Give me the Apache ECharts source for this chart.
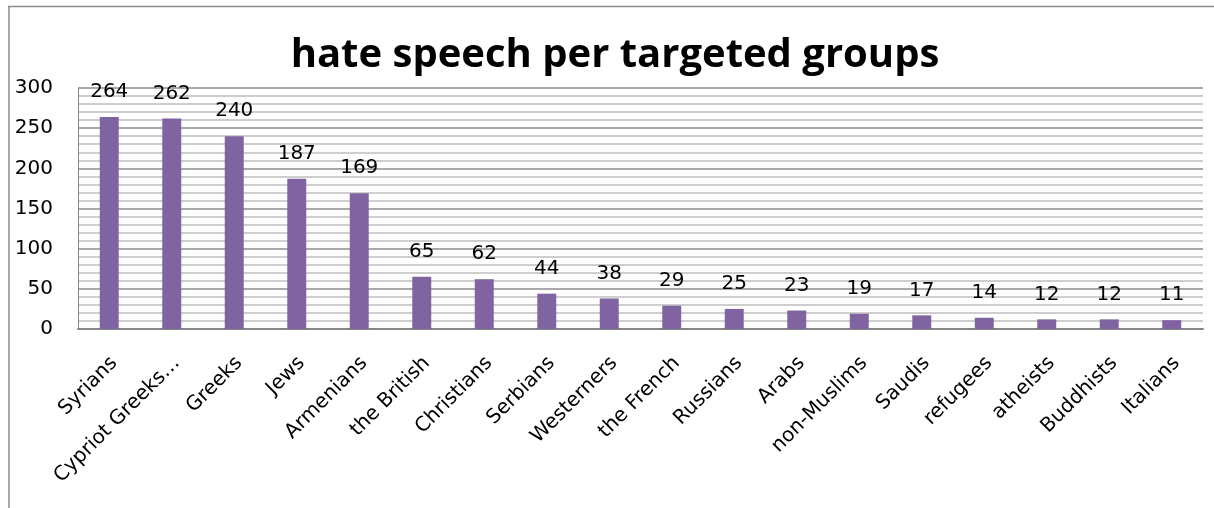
<!DOCTYPE html>
<html><head><meta charset="utf-8">
<script src="https://cdn.jsdelivr.net/npm/echarts@6/dist/echarts.min.js"></script>
<style>html,body{margin:0;padding:0;background:#fff}#c{width:1214px;height:508px}</style>
</head><body><div id="c"></div>
<script>
const titleText = 'hate speech per targeted groups';
const categories = ['Syrians','Cypriot Greeks…','Greeks','Jews','Armenians','the British','Christians','Serbians','Westerners','the French','Russians','Arabs','non-Muslims','Saudis','refugees','atheists','Buddhists','Italians'];
const values = [264,262,240,187,169,65,62,44,38,29,25,23,19,17,14,12,12,11];
const yTicks = [0,50,100,150,200,250,300];

const FONT = 'DejaVu Sans';
const chart = echarts.init(document.getElementById('c'), null, {renderer:'canvas'});
chart.setOption({
  animation:false,
  backgroundColor:'#fff',
  title:{text:titleText,left:610,textAlign:'center',top:31,textStyle:{fontFamily:'Open Sans',fontWeight:'bold',fontSize:40,color:'#000'}},
  graphic:[
    {type:'line',shape:{x1:8,y1:6.5,x2:1214,y2:6.5},style:{stroke:'#8c8c8c',lineWidth:1.5}},
    {type:'line',shape:{x1:9,y1:6,x2:9,y2:508},style:{stroke:'#8c8c8c',lineWidth:1.5}}
  ],
  grid:[
    {left:78,right:11,top:88,bottom:179,containLabel:false},
    {left:83,right:6,top:88,bottom:179,containLabel:false}
  ],
  xAxis:[
    {type:'category',data:categories,gridIndex:0,
      axisLine:{show:true,lineStyle:{color:'#868686',width:2}},
      axisTick:{show:false},axisLabel:{show:false}},
    {type:'category',data:categories,gridIndex:1,
      axisLine:{show:false},axisTick:{show:false},splitLine:{show:false},
      axisLabel:{interval:0,rotate:45,margin:31,fontFamily:FONT,fontSize:20,color:'#000'}}
  ],
  yAxis:[
    {type:'value',min:0,max:300,interval:50,gridIndex:0,
      axisLine:{show:true,lineStyle:{color:'#868686',width:1}},
      axisTick:{show:false},
      axisLabel:{margin:25,fontFamily:FONT,fontSize:20,color:'#000',
        formatter:v=>yTicks.includes(v)?String(v):''},
      splitLine:{show:true,lineStyle:{color:'#8c8c8c',width:1.5}},
      minorTick:{show:false,splitNumber:5},
      minorSplitLine:{show:true,lineStyle:{color:'#bfbfbf',width:1.5}}},
    {type:'value',min:0,max:300,gridIndex:1,show:false}
  ],
  series:[{type:'bar',data:values,barWidth:19,xAxisIndex:0,yAxisIndex:0,itemStyle:{color:'#8064A2'},
    label:{show:true,position:'top',distance:15,fontFamily:FONT,fontSize:20,color:'#000'}}]
});
</script></body></html>
